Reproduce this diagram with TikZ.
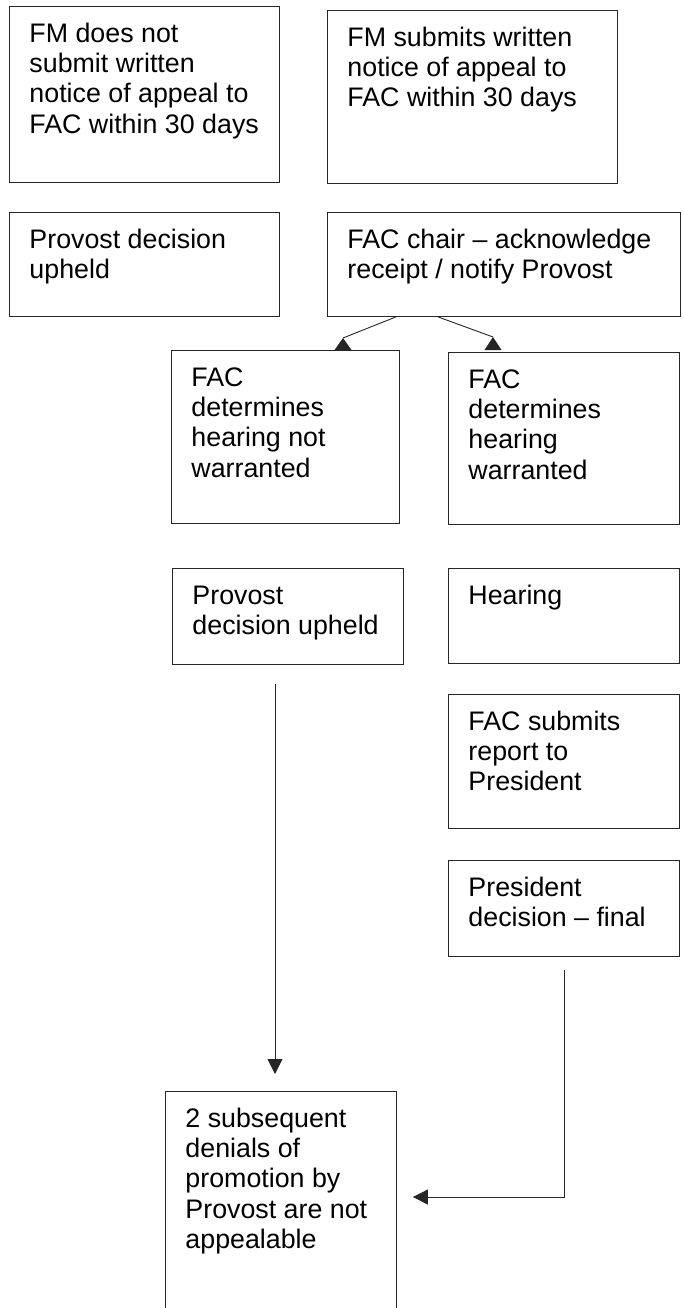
\documentclass[tikz,border=0pt]{standalone}
\usepackage{fontspec}
\setmainfont{Liberation Sans}
\usepackage{tikz}
\usetikzlibrary{arrows.meta,calc,positioning}
\definecolor{ink}{HTML}{262626}
\newcommand{\stagetext}[3]{\parbox[t][#2][t]{#1}{\raggedright\vspace*{14.9pt}\strut#3}}
\tikzset{stage/.style={draw=ink,line width=.9pt,anchor=north west,inner xsep=20pt,inner ysep=0pt,font=\fontsize{26.8}{30.2}\selectfont},flow/.style={-{Triangle[length=15pt,width=15pt]},draw=ink,line width=.9pt},uptip/.style={fill=ink}}
\begin{document}
\begin{tikzpicture}[x=1pt,y=-1pt]
\useasboundingbox (0,0) rectangle (683,1308);
\node[stage] (nofile) at (9,6) {\stagetext{230pt}{176pt}{FM does not\\submit written\\notice of appeal to\\FAC within 30 days}};
\node[stage] (filed) at (327,10) {\stagetext{250pt}{173pt}{FM submits written\\notice of appeal to\\FAC within 30 days}};
\node[stage] (upheld) at (9,212) {\stagetext{230pt}{104pt}{Provost decision\\upheld}};
\node[stage] (chair) at (327,212) {\stagetext{313pt}{104pt}{FAC chair -- acknowledge\\receipt / notify Provost}};
\node[stage] (nohear) at (171,350) {\stagetext{188pt}{173pt}{FAC\\determines\\hearing not\\warranted}};
\node[stage] (hear) at (448,352) {\stagetext{191pt}{172pt}{FAC\\determines\\hearing\\warranted}};
\node[stage] (upheldb) at (172,568) {\stagetext{191pt}{96pt}{Provost\\decision upheld}};
\node[stage] (hearing) at (448,568) {\stagetext{191pt}{95pt}{Hearing}};
\node[stage] (report) at (448,694) {\stagetext{191pt}{134pt}{FAC submits\\report to\\President}};
\node[stage] (final) at (448,860) {\stagetext{191pt}{96pt}{President\\decision -- final}};
\node[stage] (noappeal) at (165,1091) {\stagetext{191pt}{225pt}{2 subsequent\\denials of\\promotion by\\Provost are not\\appealable}};
% split below the chair
\coordinate (tipl) at (343,338);
\coordinate (tipr) at (493,337);
\draw[draw=ink,line width=.9pt] (chair.south -| 396,0) -- (tipl);
\fill[uptip] (tipl) -- ++(8.5,12) -- ++(-17,0) -- cycle;
\draw[draw=ink,line width=.9pt] (chair.south -| 438,0) -- (tipr);
\fill[uptip] (tipr) -- ++(8.5,13) -- ++(-17,0) -- cycle;
% to the last box
\coordinate (drop) at (275,1197);
\draw[flow,shorten <=19pt,shorten >=17pt] (upheldb.south -| drop) -- (noappeal.north -| drop);
\draw[flow,shorten <=13pt,shorten >=16pt] (final.south) |- (noappeal.east |- drop);
\end{tikzpicture}
\end{document}
